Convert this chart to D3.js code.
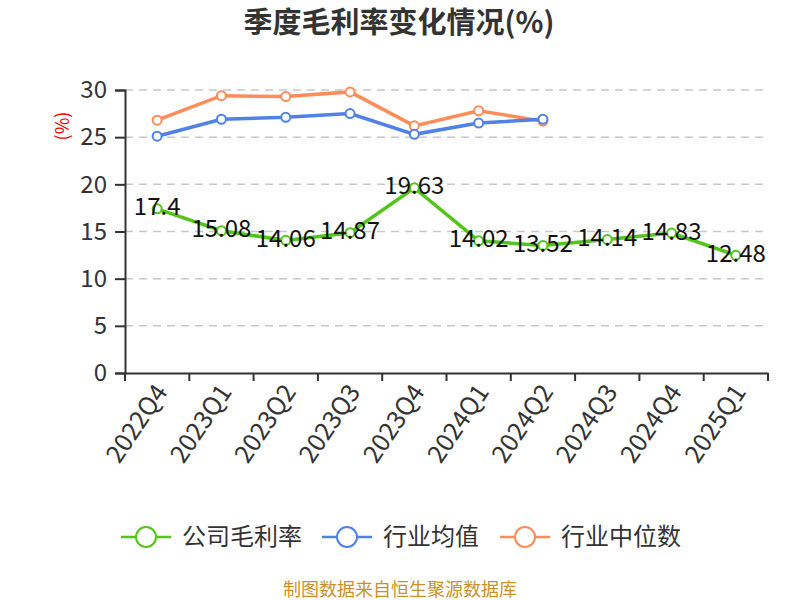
<!DOCTYPE html>
<html><head><meta charset="utf-8">
<script src="https://cdn.jsdelivr.net/npm/d3@7"></script>
<style>body{margin:0;background:#fff}</style>
</head><body>
<svg id="c" width="800" height="600"></svg>
<script>
const categories = ["2022Q4","2023Q1","2023Q2","2023Q3","2023Q4","2024Q1","2024Q2","2024Q3","2024Q4","2025Q1"];
const companyGM = [17.4,15.08,14.06,14.87,19.63,14.02,13.52,14.14,14.83,12.48];
const industryAvg = [25.1,26.9,27.1,27.5,25.3,26.5,26.9];
const industryMedian = [26.8,29.4,29.3,29.8,26.2,27.8,26.7];
const yTicks = [0,5,10,15,20,25,30];
const seriesNames = ["公司毛利率","行业均值","行业中位数"];
const colors = ["#52c41a","#4f81e6","#ff8c59"];

const svg = d3.select("#c");
const font = "'Noto Sans CJK SC','Noto Sans',sans-serif";
const x = d3.scaleBand().domain(categories).range([125,768]);
const y = d3.scaleLinear().domain([0,30]).range([373,90]);

svg.append("text").attr("x",399).attr("y",33).attr("text-anchor","middle")
  .attr("font-family",font).attr("font-size",29).attr("font-weight","bold").attr("fill","#333")
  .text("季度毛利率变化情况(%)");

// grid
svg.append("g").selectAll("line").data(yTicks.filter(d=>d>0)).join("line")
  .attr("x1",125).attr("x2",768).attr("y1",d=>y(d)).attr("y2",d=>y(d))
  .attr("stroke","#c8c8c8").attr("stroke-width",1.5).attr("stroke-dasharray","8,6");

// y axis
const ya = svg.append("g").attr("transform","translate(125,0)")
  .call(d3.axisLeft(y).tickValues(yTicks).tickSize(10).tickPadding(8));
ya.select(".domain").attr("stroke","#333").attr("stroke-width",2);
ya.selectAll(".tick line").attr("stroke","#333").attr("stroke-width",2);
ya.selectAll("text").attr("font-family",font).attr("font-size",24).attr("fill","#333");

// x axis
const xa = svg.append("g").attr("transform","translate(0,373)")
  .call(d3.axisBottom(x).tickSizeOuter(0).tickSize(0));
xa.select(".domain").attr("stroke","#333").attr("stroke-width",2);
xa.append("g").selectAll("line").data(d3.range(categories.length+1)).join("line")
  .attr("x1",i=>125+i*x.step()).attr("x2",i=>125+i*x.step()).attr("y1",0).attr("y2",8)
  .attr("stroke","#333").attr("stroke-width",2);
xa.selectAll(".tick text").attr("font-family",font).attr("font-size",25).attr("fill","#333")
  .attr("text-anchor","end").attr("dy","0.35em").attr("y",0)
  .attr("transform","translate(4,14) rotate(-56)");

// y label
svg.append("text").attr("transform","translate(63,126) rotate(-90)").attr("dy","0.35em").attr("text-anchor","middle")
  .attr("font-family",font).attr("font-size",18).attr("fill","#e00").text("(%)");

const cx = c => x(c)+x.bandwidth()/2;
function drawSeries(vals,color){
  const pts = vals.map((v,i)=>[cx(categories[i]),y(v)]);
  svg.append("path").attr("d",d3.line()(pts)).attr("fill","none").attr("stroke",color).attr("stroke-width",3.5);
  svg.append("g").selectAll("circle").data(pts).join("circle")
    .attr("cx",d=>d[0]).attr("cy",d=>d[1]).attr("r",4.5)
    .attr("fill","#fff").attr("stroke",color).attr("stroke-width",2);
}
drawSeries(industryMedian,colors[2]);
drawSeries(industryAvg,colors[1]);
drawSeries(companyGM,colors[0]);

svg.append("g").selectAll("text").data(companyGM).join("text")
  .attr("x",(d,i)=>cx(categories[i])).attr("y",d=>y(d)-2).attr("dy","0.35em")
  .attr("text-anchor","middle").attr("font-family",font).attr("font-size",24).attr("fill","#111")
  .text(d=>d);

// legend
const lx = [121,322,500];
seriesNames.forEach((n,i)=>{
  const g = svg.append("g").attr("transform",`translate(${lx[i]},537)`);
  g.append("line").attr("x1",0).attr("x2",50).attr("stroke",colors[i]).attr("stroke-width",2.5);
  g.append("circle").attr("cx",25).attr("r",10).attr("fill","#fff").attr("stroke",colors[i]).attr("stroke-width",2);
  g.append("text").attr("x",61).attr("dy","0.35em").attr("font-family",font).attr("font-size",24).attr("fill","#333").text(n);
});

svg.append("text").attr("x",400).attr("y",590).attr("dy","0.35em").attr("text-anchor","middle")
  .attr("font-family",font).attr("font-size",18).attr("fill","#c8922a").text("制图数据来自恒生聚源数据库");
</script>
</body></html>
